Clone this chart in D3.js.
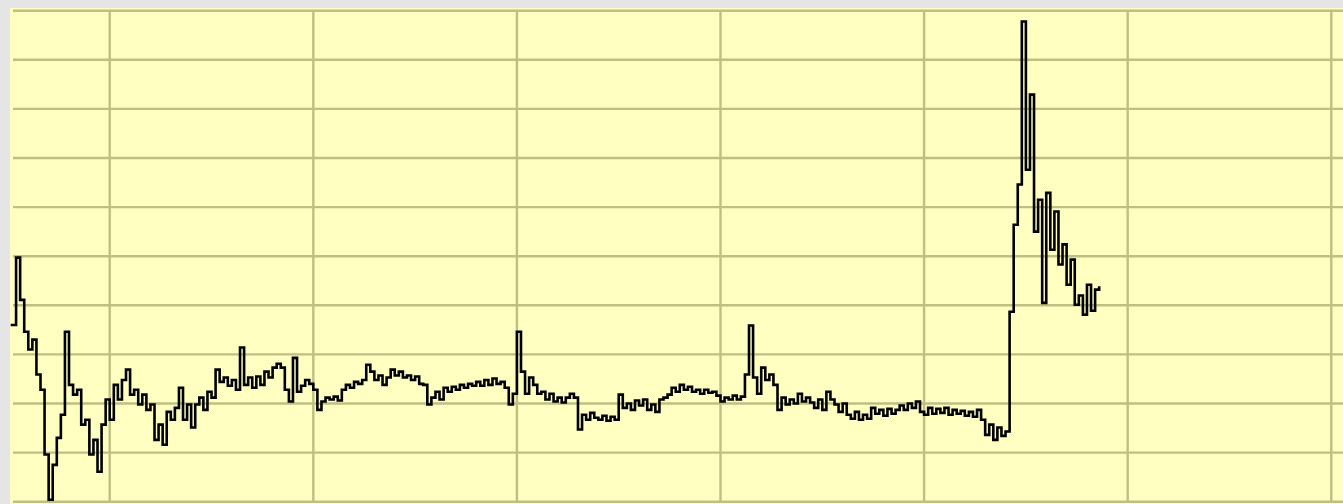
<!DOCTYPE html>
<html>
<head>
<meta charset="utf-8">
<script src="https://cdn.jsdelivr.net/npm/d3@7"></script>
<style>
  html, body { margin: 0; padding: 0; background: #e5e5e5; overflow: hidden; }
  svg { display: block; }
</style>
</head>
<body>
<svg id="chart" width="1343" height="504"></svg>
<script>
// ---- data ----
// sample positions (in "days"), one sample every 2 days
const dayStep = 2;
const values = [
  36.0, 49.7, 41.1, 34.6, 31.0, 33.0, 25.9, 22.8, 9.6, 0.4,
  7.5, 13.0, 17.7, 34.6, 23.8, 21.8, 22.8, 15.7, 16.7, 9.6,
  12.6, 6.1, 15.7, 20.8, 16.7, 23.8, 20.8, 24.8, 26.9, 21.8,
  22.8, 19.8, 21.8, 18.7, 19.8, 12.6, 15.7, 11.6, 18.3, 16.7,
  19.1, 23.2, 16.7, 19.8, 15.1, 19.8, 21.2, 18.7, 22.4, 21.2,
  26.9, 24.4, 25.3, 23.6, 24.8, 22.8, 31.4, 23.8, 25.3, 23.2,
  25.5, 23.8, 26.5, 25.3, 27.3, 28.1, 27.3, 22.8, 20.4, 29.3,
  22.4, 23.6, 24.8, 24.0, 22.8, 18.7, 20.4, 21.2, 20.8, 21.4,
  20.6, 22.8, 23.8, 23.2, 24.4, 24.0, 24.8, 27.9, 26.5, 24.8,
  25.7, 23.8, 25.3, 26.9, 25.7, 26.5, 25.3, 25.7, 24.8, 25.5,
  24.0, 23.8, 19.8, 21.2, 22.4, 20.8, 23.2, 22.4, 23.4, 22.8,
  23.8, 23.2, 24.0, 23.6, 24.4, 23.6, 24.8, 23.8, 25.1, 24.0,
  24.4, 23.2, 19.8, 22.0, 34.6, 26.5, 22.0, 25.3, 23.8, 22.0,
  22.4, 20.8, 22.0, 20.4, 21.2, 20.2, 21.2, 22.0, 21.2, 14.7,
  17.7, 16.7, 18.1, 17.1, 16.7, 17.5, 16.5, 17.3, 16.7, 21.8,
  19.1, 20.0, 18.7, 20.6, 19.6, 20.8, 18.7, 19.8, 18.3, 20.8,
  21.2, 21.8, 23.2, 22.4, 23.8, 22.8, 23.4, 22.4, 22.8, 22.0,
  22.8, 22.2, 22.4, 21.6, 20.4, 21.2, 20.8, 21.6, 20.8, 21.4,
  25.9, 35.9, 25.3, 22.0, 27.3, 24.8, 25.9, 23.8, 18.7, 21.2,
  19.8, 20.8, 20.0, 22.0, 20.4, 21.2, 20.2, 19.1, 20.8, 18.7,
  22.4, 20.8, 19.8, 18.3, 20.0, 17.7, 16.9, 18.3, 16.7, 17.7,
  16.9, 19.1, 17.9, 18.7, 17.5, 18.9, 17.9, 18.7, 19.6, 18.7,
  20.0, 19.1, 20.4, 18.3, 17.7, 19.1, 17.9, 18.9, 18.1, 19.1,
  17.7, 18.7, 17.9, 18.5, 17.5, 18.3, 17.3, 18.7, 16.7, 13.6,
  15.7, 12.6, 15.1, 13.4, 14.3, 38.7, 56.4, 64.6, 97.8, 67.6,
  82.9, 55.0, 61.5, 40.5, 62.9, 51.3, 59.1, 48.3, 52.4, 44.2,
  49.3, 40.1, 42.0, 38.1, 44.2, 38.9, 43.2, 43.6
];
const yTicks = [0, 10, 20, 30, 40, 50, 60, 70, 80, 90, 100];
const xTicks = [48, 148, 248, 348, 448, 548, 648];
const xDomain = [0, 654];

// ---- drawing ----
const W = 1343, H = 504;
const plot = { left: 10, top: 8, right: 1343, bottom: 504 };
const svg = d3.select("#chart");

const defs = svg.append("defs");
const pat = defs.append("pattern")
  .attr("id", "dither").attr("width", 2).attr("height", 2)
  .attr("patternUnits", "userSpaceOnUse");
pat.append("rect").attr("width", 2).attr("height", 2).attr("fill", "#ffffd8");
pat.append("rect").attr("x", 0).attr("y", 0).attr("width", 1).attr("height", 1).attr("fill", "#fbfbbd");
pat.append("rect").attr("x", 1).attr("y", 1).attr("width", 1).attr("height", 1).attr("fill", "#fbfbbd");

svg.append("rect").attr("width", W).attr("height", H).attr("fill", "#e5e5e5");
svg.append("rect")
  .attr("x", plot.left).attr("y", plot.top)
  .attr("width", plot.right - plot.left).attr("height", plot.bottom - plot.top)
  .attr("fill", "url(#dither)");

const x = d3.scaleLinear().domain(xDomain).range([12, 1343.5]);
const y = d3.scaleLinear().domain([0, 100]).range([501.7, 10.7]);

const gridColor = "#bfbf84";
svg.append("g").selectAll("line").data(yTicks).join("line")
  .attr("x1", 13).attr("x2", W)
  .attr("y1", d => y(d)).attr("y2", d => y(d))
  .attr("stroke", gridColor).attr("stroke-width", 2.4);
svg.append("g").selectAll("line").data(xTicks).join("line")
  .attr("x1", d => x(d)).attr("x2", d => x(d))
  .attr("y1", y(100)).attr("y2", y(0))
  .attr("stroke", gridColor).attr("stroke-width", 2.4);

const series = values.map((v, i) => ({ t: i * dayStep, v }));
const line = d3.line()
  .x(d => x(d.t))
  .y(d => y(d.v))
  .curve(d3.curveStepAfter);

svg.append("path")
  .datum(series)
  .attr("d", line)
  .attr("fill", "none")
  .attr("stroke", "#000")
  .attr("stroke-width", 2.6)
  .attr("stroke-linejoin", "miter")
  .attr("stroke-linecap", "square");
</script>
</body>
</html>
